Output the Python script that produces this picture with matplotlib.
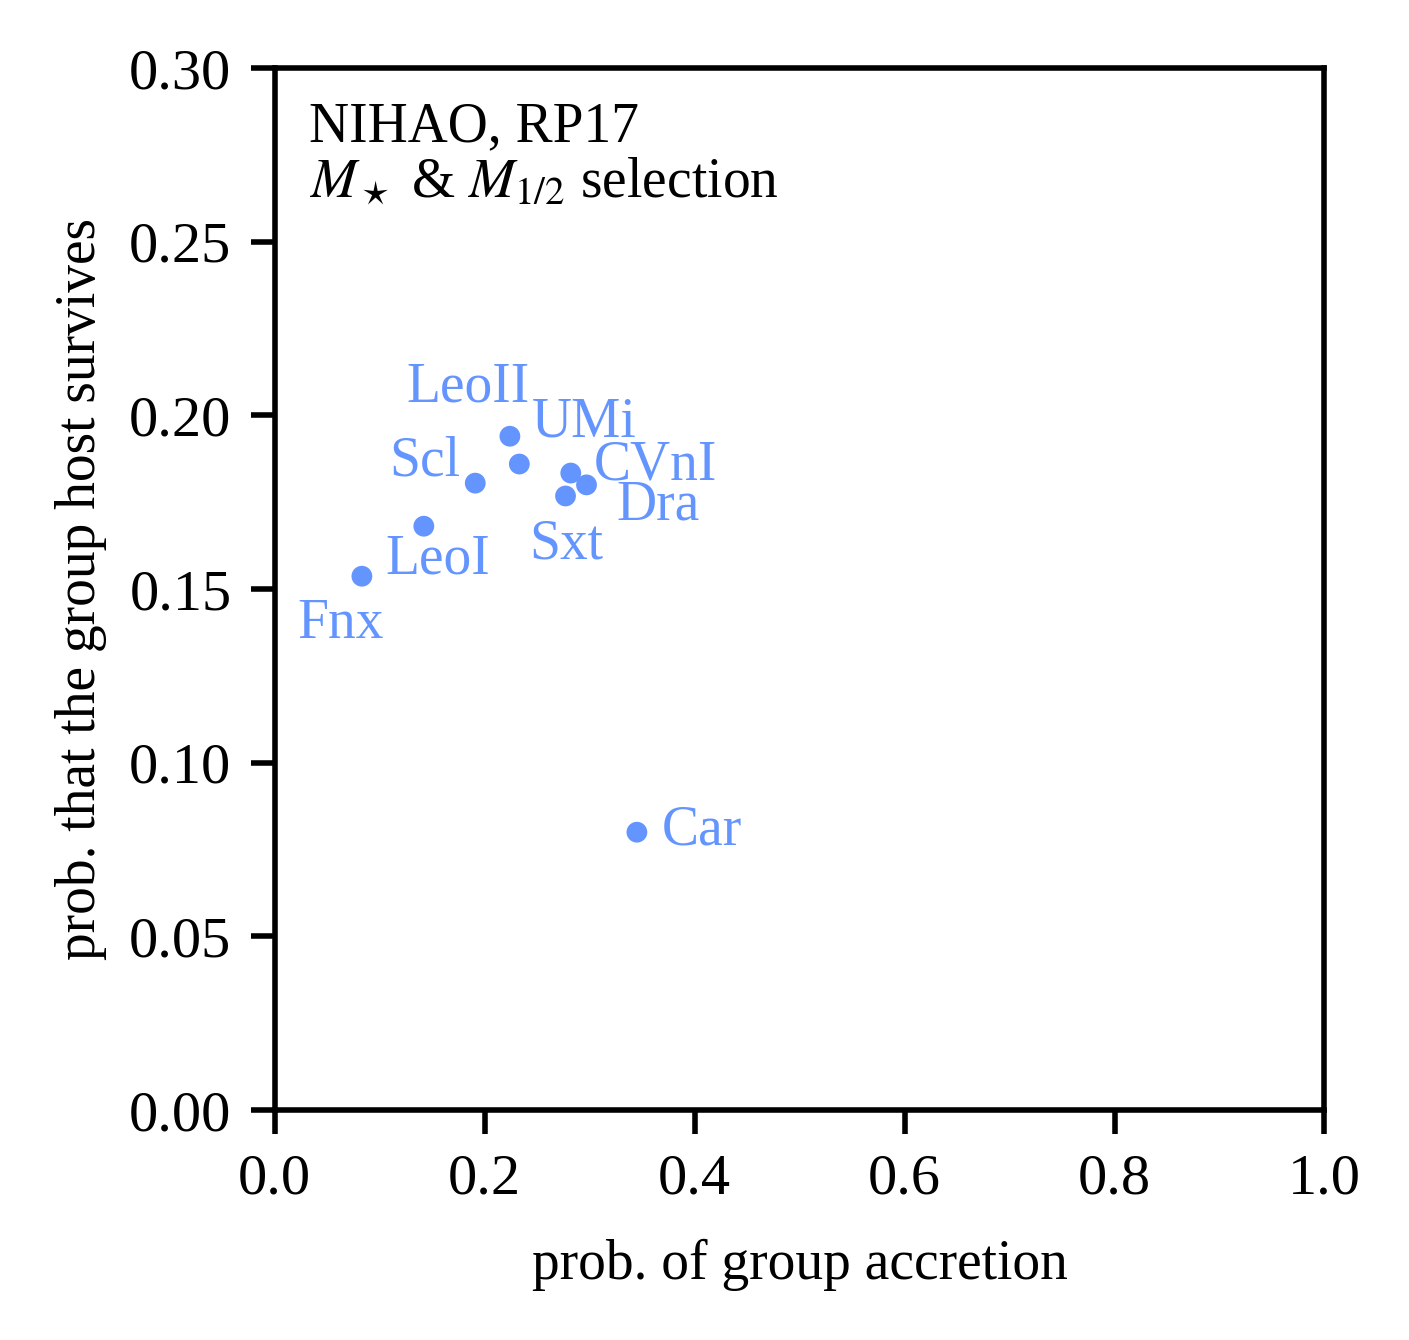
import matplotlib
matplotlib.use("Agg")
import matplotlib.pyplot as plt

plt.rcParams["font.family"] = "serif"
plt.rcParams["font.serif"] = ["Liberation Serif", "DejaVu Serif"]
plt.rcParams["mathtext.fontset"] = "stix"

# ── data ──────────────────────────────────────────────────────────
names   = ["Fnx", "LeoI", "Scl", "LeoII", "UMi", "CVnI", "Dra", "Sxt", "Car"]
p_accr  = [0.083, 0.142, 0.191, 0.224, 0.233, 0.282, 0.297, 0.277, 0.345]
p_surv  = [0.1537, 0.1681, 0.1805, 0.1940, 0.1860, 0.1834, 0.1800, 0.1768, 0.0800]

# label offsets in points and alignment
offsets = {
    "Fnx":   (-3.8, -11.2, "center"),
    "LeoI":  (2.5, -8.5, "center"),
    "Scl":   (-2.7, 1.3, "right"),
    "LeoII": (-7.6, 6.3, "center"),
    "UMi":   (2.3, 5.0, "left"),
    "CVnI":  (4.1, -1.1, "left"),
    "Dra":   (5.4, -6.3, "left"),
    "Sxt":   (0.2, -11.3, "center"),
    "Car":   (4.5, -2.3, "left"),
}

col = "#6495ff"

fig = plt.figure(figsize=(1409 / 400, 1340 / 400), dpi=400)
ax = fig.add_axes([0.195, 0.1716, 0.745, 0.7776])

ax.scatter(p_accr, p_surv, s=14, color=col, edgecolors="none", zorder=3)
for n, x, y in zip(names, p_accr, p_surv):
    dx, dy, ha = offsets[n]
    ax.annotate(n, (x, y), xytext=(dx, dy), textcoords="offset points",
                ha=ha, va="baseline", color=col, fontsize=10)

ax.text(0.033, 0.968, "NIHAO, RP17\n$M_\\star$ & $M_{1/2}$ selection",
        transform=ax.transAxes, ha="left", va="top", fontsize=10,
        linespacing=1.1)

ax.set_xlim(0, 1)
ax.set_ylim(0, 0.3)
ax.set_xticks([0, 0.2, 0.4, 0.6, 0.8, 1.0])
ax.set_yticks([0, 0.05, 0.10, 0.15, 0.20, 0.25, 0.30])
ax.set_xticklabels(["0.0", "0.2", "0.4", "0.6", "0.8", "1.0"])
ax.set_yticklabels(["0.00", "0.05", "0.10", "0.15", "0.20", "0.25", "0.30"])
ax.tick_params(labelsize=10.5, length=4.3, width=1.0)
for s in ax.spines.values():
    s.set_linewidth(1.0)
ax.set_xlabel("prob. of group accretion", fontsize=10, labelpad=6)
ax.set_ylabel("prob. that the group host survives", fontsize=10)

fig.savefig("out.png", dpi=400)
